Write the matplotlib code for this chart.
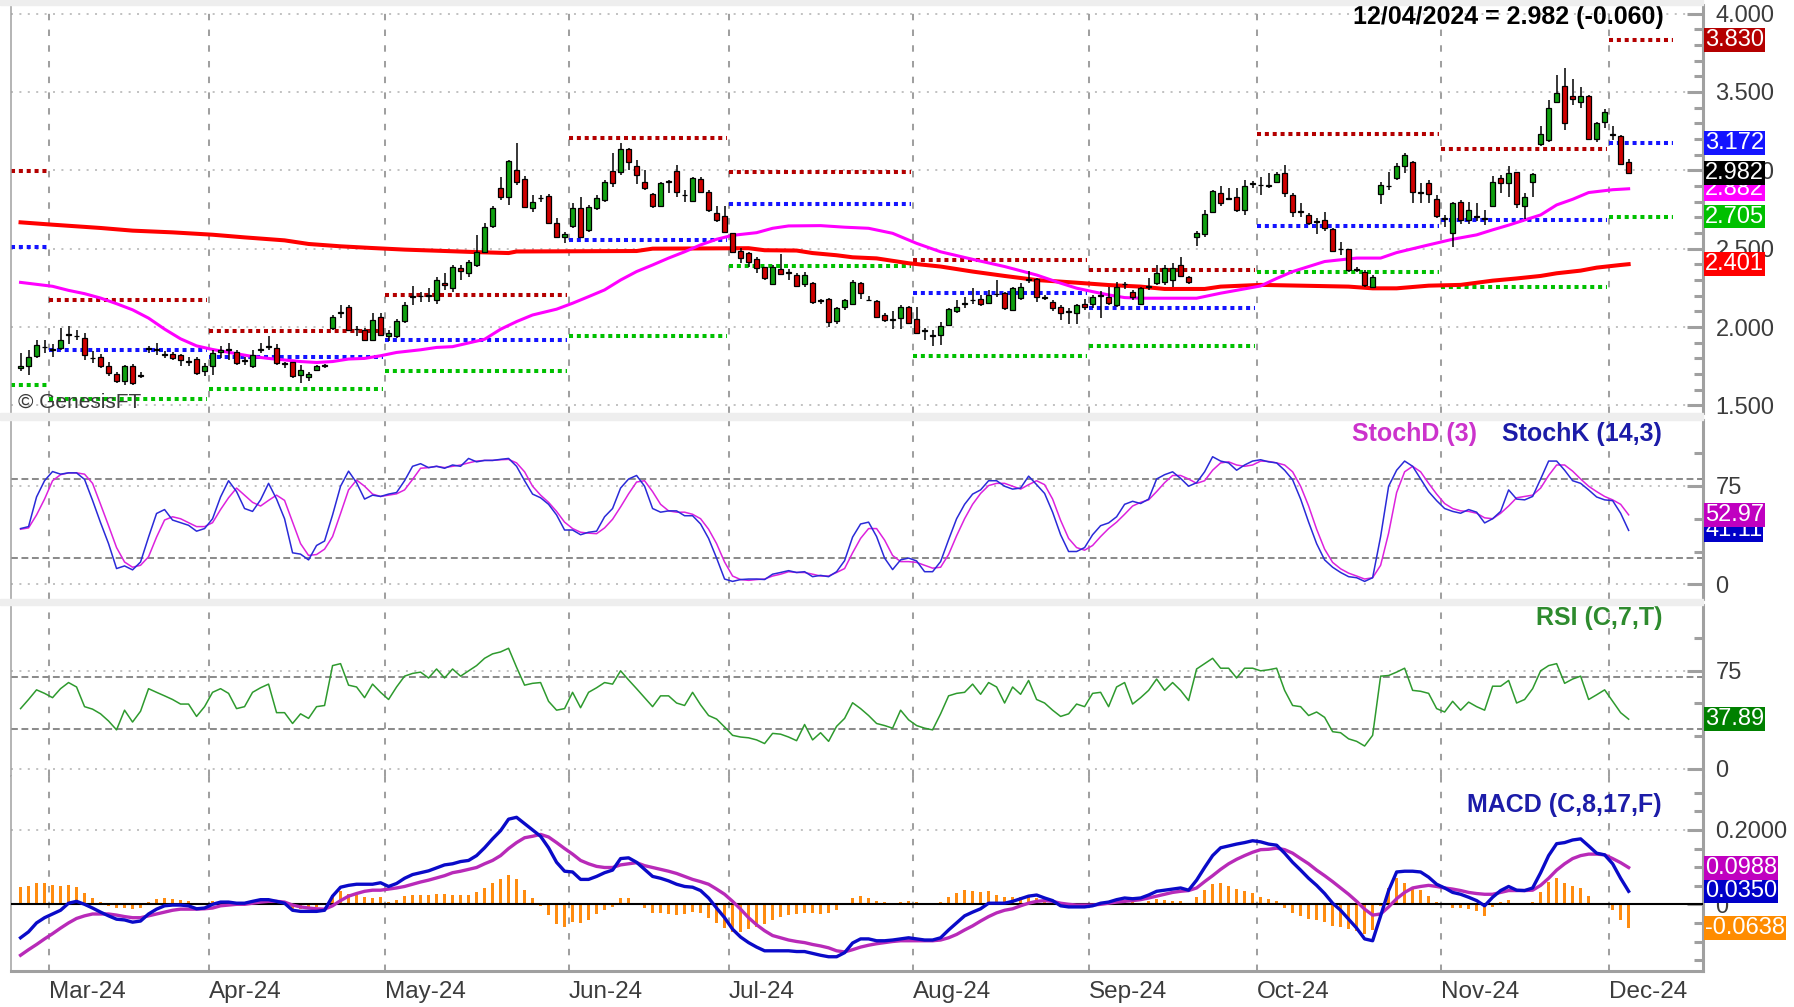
import numpy as np
import pandas as pd
import matplotlib
matplotlib.use("Agg")
import matplotlib.pyplot as plt
from matplotlib.patches import Rectangle

plt.rcParams['font.family'] = ['Liberation Sans', 'DejaVu Sans']

# trading days shown on the chart (weekdays, Good Friday missing)
dates = pd.bdate_range("2024-02-26", "2024-12-04")
dates = dates[dates != pd.Timestamp("2024-03-29")]

opens = [1.740, 1.749, 1.818, 1.870, 1.862, 1.866, 1.955, 1.945, 1.930, 1.805,
         1.809, 1.753, 1.700, 1.653, 1.753, 1.695, 1.860, 1.860, 1.830, 1.830,
         1.820, 1.785, 1.795, 1.717, 1.749, 1.840, 1.856, 1.840, 1.790, 1.750,
         1.855, 1.872, 1.866, 1.770, 1.775, 1.696, 1.680, 1.723, 1.752, 1.994,
         2.090, 2.128, 1.985, 1.983, 1.920, 2.062, 1.945, 1.940, 2.036, 2.190,
         2.200, 2.195, 2.170, 2.280, 2.247, 2.375, 2.343, 2.396, 2.480, 2.645,
         2.890, 2.832, 3.002, 2.943, 2.758, 2.820, 2.838, 2.662, 2.575, 2.645,
         2.758, 2.620, 2.758, 2.810, 2.996, 2.991, 3.134, 3.030, 2.928, 2.847,
         2.772, 2.930, 2.996, 2.845, 2.806, 2.945, 2.864, 2.730, 2.709, 2.598,
         2.488, 2.470, 2.432, 2.380, 2.275, 2.370, 2.350, 2.332, 2.275, 2.283,
         2.170, 2.177, 2.040, 2.126, 2.150, 2.279, 2.175, 2.167, 2.077, 2.050,
         2.056, 2.130, 2.050, 1.980, 1.945, 1.950, 2.014, 2.100, 2.147, 2.170,
         2.177, 2.156, 2.210, 2.215, 2.110, 2.184, 2.303, 2.305, 2.190, 2.163,
         2.126, 2.100, 2.092, 2.147, 2.147, 2.198, 2.190, 2.140, 2.273, 2.226,
         2.150, 2.255, 2.283, 2.290, 2.300, 2.396, 2.318, 2.573, 2.594, 2.736,
         2.857, 2.820, 2.832, 2.747, 2.915, 2.905, 2.900, 2.928, 2.981, 2.843,
         2.737, 2.715, 2.675, 2.683, 2.624, 2.500, 2.496, 2.370, 2.354, 2.258,
         2.850, 2.898, 2.949, 3.028, 3.055, 2.860, 2.920, 2.815, 2.696, 2.598,
         2.796, 2.683, 2.705, 2.693, 2.773, 2.949, 2.917, 2.991, 2.773, 2.928,
         3.168, 3.193, 3.438, 3.540, 3.474, 3.438, 3.474, 3.198, 3.310, 3.230,
         3.221, 3.055]
highs = [1.834, 1.855, 1.919, 1.919, 1.890, 1.994, 2.009, 1.983, 1.962, 1.845,
         1.830, 1.780, 1.715, 1.760, 1.766, 1.715, 1.877, 1.898, 1.845, 1.840,
         1.830, 1.810, 1.810, 1.770, 1.855, 1.877, 1.898, 1.855, 1.808, 1.855,
         1.898, 1.940, 1.890, 1.780, 1.780, 1.760, 1.715, 1.760, 1.766, 2.079,
         2.143, 2.143, 2.004, 1.994, 2.087, 2.087, 1.983, 2.050, 2.157, 2.264,
         2.226, 2.250, 2.320, 2.343, 2.396, 2.396, 2.428, 2.586, 2.662, 2.770,
         2.955, 3.066, 3.172, 2.964, 2.843, 2.843, 2.849, 2.694, 2.609, 2.790,
         2.832, 2.779, 2.843, 2.940, 3.110, 3.172, 3.140, 3.066, 3.000, 2.853,
         2.928, 2.940, 3.032, 2.875, 2.960, 2.955, 2.875, 2.773, 2.773, 2.600,
         2.503, 2.480, 2.450, 2.386, 2.396, 2.467, 2.370, 2.343, 2.353, 2.290,
         2.180, 2.183, 2.130, 2.177, 2.300, 2.290, 2.200, 2.173, 2.088, 2.100,
         2.140, 2.134, 2.126, 1.995, 1.980, 2.035, 2.120, 2.173, 2.190, 2.247,
         2.205, 2.237, 2.300, 2.226, 2.258, 2.279, 2.360, 2.310, 2.205, 2.173,
         2.140, 2.124, 2.150, 2.180, 2.205, 2.230, 2.258, 2.290, 2.290, 2.237,
         2.258, 2.310, 2.396, 2.396, 2.407, 2.450, 2.326, 2.610, 2.745, 2.877,
         2.900, 2.890, 2.890, 2.940, 2.930, 2.960, 2.980, 2.992, 3.034, 2.853,
         2.790, 2.726, 2.694, 2.737, 2.630, 2.540, 2.500, 2.385, 2.364, 2.333,
         2.928, 2.990, 3.045, 3.109, 3.062, 2.917, 2.940, 2.843, 2.715, 2.800,
         2.810, 2.800, 2.790, 2.745, 2.964, 2.970, 3.028, 2.992, 2.853, 2.985,
         3.283, 3.450, 3.606, 3.655, 3.580, 3.530, 3.480, 3.310, 3.390, 3.280,
         3.225, 3.070]
lows = [1.717, 1.696, 1.802, 1.834, 1.810, 1.855, 1.894, 1.919, 1.790, 1.770,
        1.738, 1.685, 1.642, 1.630, 1.630, 1.674, 1.834, 1.823, 1.800, 1.787,
        1.749, 1.749, 1.696, 1.685, 1.696, 1.800, 1.790, 1.760, 1.760, 1.740,
        1.834, 1.855, 1.760, 1.740, 1.674, 1.645, 1.655, 1.717, 1.740, 1.983,
        2.060, 1.972, 1.940, 1.915, 1.909, 1.940, 1.909, 1.930, 2.025, 2.140,
        2.162, 2.160, 2.150, 2.237, 2.226, 2.300, 2.320, 2.386, 2.470, 2.630,
        2.810, 2.777, 2.907, 2.758, 2.737, 2.800, 2.658, 2.566, 2.533, 2.630,
        2.566, 2.609, 2.747, 2.800, 2.896, 2.970, 3.000, 2.910, 2.874, 2.758,
        2.768, 2.858, 2.832, 2.800, 2.800, 2.853, 2.737, 2.673, 2.598, 2.470,
        2.407, 2.386, 2.343, 2.300, 2.268, 2.333, 2.300, 2.258, 2.258, 2.150,
        2.150, 2.000, 2.020, 2.110, 2.140, 2.177, 2.165, 2.056, 2.035, 1.990,
        1.986, 2.020, 1.960, 1.920, 1.880, 1.887, 2.010, 2.090, 2.120, 2.150,
        2.135, 2.147, 2.190, 2.110, 2.100, 2.173, 2.280, 2.160, 2.170, 2.105,
        2.045, 2.020, 2.020, 2.110, 2.120, 2.060, 2.140, 2.130, 2.240, 2.173,
        2.140, 2.237, 2.270, 2.270, 2.258, 2.320, 2.275, 2.520, 2.577, 2.726,
        2.773, 2.810, 2.737, 2.715, 2.890, 2.840, 2.885, 2.917, 2.830, 2.700,
        2.700, 2.650, 2.596, 2.610, 2.480, 2.460, 2.354, 2.350, 2.258, 2.247,
        2.783, 2.875, 2.940, 2.980, 2.790, 2.790, 2.790, 2.694, 2.640, 2.513,
        2.660, 2.660, 2.675, 2.650, 2.770, 2.853, 2.830, 2.758, 2.690, 2.830,
        3.155, 3.183, 3.428, 3.257, 3.417, 3.395, 3.193, 3.183, 3.270, 3.190,
        3.036, 2.975]
closes = [1.750, 1.809, 1.883, 1.875, 1.855, 1.919, 1.950, 1.940, 1.823, 1.800,
          1.749, 1.706, 1.653, 1.749, 1.642, 1.690, 1.865, 1.855, 1.820, 1.800,
          1.790, 1.780, 1.706, 1.753, 1.834, 1.855, 1.853, 1.770, 1.786, 1.820,
          1.860, 1.876, 1.770, 1.765, 1.685, 1.728, 1.700, 1.753, 1.756, 2.062,
          2.095, 1.983, 1.990, 1.920, 2.047, 1.951, 1.962, 2.040, 2.143, 2.195,
          2.195, 2.205, 2.300, 2.270, 2.386, 2.360, 2.413, 2.480, 2.640, 2.762,
          2.832, 3.060, 2.928, 2.764, 2.800, 2.825, 2.666, 2.577, 2.595, 2.762,
          2.577, 2.768, 2.820, 2.928, 2.917, 3.134, 3.055, 2.970, 2.885, 2.772,
          2.917, 2.925, 2.864, 2.840, 2.953, 2.864, 2.747, 2.683, 2.609, 2.480,
          2.440, 2.418, 2.375, 2.310, 2.380, 2.340, 2.345, 2.264, 2.332, 2.158,
          2.165, 2.035, 2.120, 2.170, 2.290, 2.220, 2.170, 2.067, 2.045, 2.048,
          2.130, 2.028, 1.965, 1.977, 1.943, 2.007, 2.113, 2.130, 2.150, 2.173,
          2.147, 2.205, 2.213, 2.120, 2.247, 2.258, 2.307, 2.194, 2.186, 2.120,
          2.088, 2.097, 2.140, 2.126, 2.194, 2.200, 2.152, 2.258, 2.276, 2.190,
          2.247, 2.258, 2.343, 2.375, 2.375, 2.326, 2.285, 2.603, 2.720, 2.870,
          2.794, 2.815, 2.747, 2.900, 2.920, 2.908, 2.900, 2.977, 2.853, 2.736,
          2.734, 2.662, 2.672, 2.630, 2.488, 2.496, 2.364, 2.366, 2.269, 2.318,
          2.906, 2.900, 3.028, 3.098, 2.864, 2.857, 2.849, 2.709, 2.690, 2.790,
          2.683, 2.747, 2.708, 2.690, 2.928, 2.917, 2.985, 2.785, 2.828, 2.977,
          3.232, 3.395, 3.495, 3.300, 3.453, 3.474, 3.198, 3.300, 3.374, 3.225,
          3.042, 2.982]

# moving averages, read at sample bars
ma200_bar = [0, 4, 10, 14, 19, 24, 28, 33, 36, 40, 44, 48, 52, 57, 61, 62, 77, 79, 91, 93,
             97, 99, 102, 104, 107, 111, 115, 119, 123, 127, 132, 136, 140, 143, 148,
             150, 155, 166, 169, 172, 176, 180, 184, 187, 190, 192, 195, 197, 200, 201]
ma200 = [2.668, 2.653, 2.632, 2.615, 2.604, 2.589, 2.572, 2.553, 2.530, 2.515,
         2.504, 2.494, 2.487, 2.478, 2.472, 2.482, 2.485, 2.500, 2.503, 2.490,
         2.488, 2.472, 2.458, 2.445, 2.438, 2.407, 2.386, 2.354, 2.326, 2.300,
         2.283, 2.268, 2.258, 2.243, 2.243, 2.258, 2.269, 2.258, 2.247, 2.247,
         2.264, 2.269, 2.296, 2.310, 2.326, 2.343, 2.360, 2.379, 2.396, 2.401]
ma50_bar = [0, 4, 6, 8, 10, 12, 14, 16, 18, 20, 22, 24, 27, 29, 31, 33, 35, 37, 39, 41,
            43, 45, 47, 50, 52, 54, 58, 60, 62, 64, 67, 69, 71, 73, 75, 77, 79, 81, 83, 85,
            87, 89, 92, 94, 96, 100, 103, 106, 109, 112, 115, 119, 123, 127, 130, 132,
            134, 136, 138, 140, 147, 150, 155, 157, 159, 163, 167, 170, 172, 176, 179,
            182, 184, 186, 188, 190, 192, 194, 196, 199, 201]
ma50 = [2.285, 2.260, 2.234, 2.213, 2.185, 2.149, 2.110, 2.057, 1.987, 1.925,
        1.880, 1.857, 1.830, 1.812, 1.800, 1.790, 1.780, 1.774, 1.780, 1.796,
        1.800, 1.817, 1.838, 1.855, 1.870, 1.875, 1.922, 1.986, 2.035, 2.077,
        2.114, 2.152, 2.194, 2.237, 2.300, 2.354, 2.396, 2.440, 2.480, 2.524,
        2.560, 2.585, 2.602, 2.630, 2.645, 2.647, 2.637, 2.630, 2.598, 2.534,
        2.480, 2.432, 2.386, 2.332, 2.280, 2.248, 2.226, 2.205, 2.188, 2.184,
        2.184, 2.216, 2.262, 2.310, 2.354, 2.418, 2.440, 2.440, 2.475, 2.524,
        2.560, 2.588, 2.620, 2.650, 2.683, 2.715, 2.779, 2.815, 2.858, 2.876,
        2.882]

# monthly pivot levels, Feb .. Dec
pivot_r1 = [2.994, 2.174, 1.977, 2.202, 3.208, 2.990, 2.428, 2.364, 3.234, 3.134, 3.830]
pivot_pp = [2.509, 1.855, 1.809, 1.920, 2.556, 2.785, 2.216, 2.120, 2.646, 2.683, 3.172]
pivot_s1 = [1.628, 1.540, 1.604, 1.717, 1.943, 2.392, 1.816, 1.880, 2.354, 2.258, 2.705]

stoch_k = [42.5, 44, 66.6, 79, 86, 84, 85, 85, 80, 64,
           47, 31, 12, 14, 11, 17, 36, 54, 57, 49,
           47, 45, 40.5, 42.5, 50, 66.6, 79, 70.7, 57.8, 55.6,
           64.4, 77, 65, 50, 24, 23, 18.6, 29.6, 33, 52.9,
           74.8, 86.3, 77.5, 65, 68, 67, 68.8, 70, 79, 90,
           92, 89, 90, 88.5, 91, 90, 96, 93.4, 94.5, 94.5,
           95.3, 96, 90, 79, 68.8, 66, 61, 52.9, 41.4, 41.4,
           37.8, 39.7, 40.5, 51.5, 57.8, 73.4, 80.3, 83, 74.8, 57.8,
           55, 56, 56, 52.3, 52.3, 46, 35, 20, 4, 2.2,
           3.6, 4, 4, 3.6, 7.7, 9, 10.4, 9, 9.6, 5.8,
           6.8, 5.8, 9.6, 18, 36, 46, 47.4, 36.4, 20, 11.2,
           18.6, 20, 17.8, 9.6, 9.6, 17.3, 34, 50, 61, 68.8,
           72, 79, 79, 74.8, 72.6, 73.4, 82.5, 76, 69.3, 55,
           37.8, 25, 25, 28, 37.8, 44.7, 46.8, 51.5, 61, 63.3,
           61.6, 65, 80.3, 83.6, 85.8, 80.8, 74.8, 77.5, 85.8, 97.3,
           94, 92.6, 87, 91, 94, 95, 93.4, 92.6, 87, 79.7,
           65, 47.4, 31, 18.6, 13, 9, 5.8, 5, 2.2, 5,
           36.4, 74.8, 87, 94, 90, 80.3, 70.7, 63.8, 57.8, 55.6,
           54.2, 57, 55, 46.8, 50, 55.6, 72, 65, 64.4, 67,
           80.3, 94, 94, 87, 79, 77, 72, 66.6, 64.4, 63.8,
           54.2, 41.11]
stoch_d = [42, 43, 52.9, 65, 79, 83.6, 85, 85, 84, 77,
           61, 44.7, 28, 17, 13, 14.5, 21, 36, 49, 51.5,
           50, 47, 44, 44, 47, 57, 66, 73.4, 68, 62.5,
           59.7, 64, 68, 64, 47.4, 31, 22, 22.7, 26.8, 36.4,
           54, 72, 79.5, 74.8, 68.8, 67, 68, 69, 72, 80,
           88.5, 89, 90, 89, 90, 91, 92.6, 94, 94.5, 94.5,
           95, 95.3, 92.6, 85.8, 74.8, 68, 62.5, 55.6, 47.4, 42.5,
           39.7, 39, 38.6, 43, 49.6, 59, 69, 78, 79, 70.7,
           61, 56, 55, 55, 53.4, 50, 42, 31, 17, 6.3,
           3.6, 3, 3.6, 4, 6.3, 7.7, 9.6, 9, 9, 7.7,
           6.3, 6.3, 9, 12, 24, 35, 42.5, 42.5, 33.7, 22,
           17.3, 17.3, 16.7, 14.5, 12.3, 13, 22.7, 37, 50, 61,
           69.3, 75.3, 77, 77, 74.8, 72.6, 76, 79, 76, 65,
           48.8, 35, 28, 26, 29.6, 36.4, 42.5, 47.4, 53.4, 59.7,
           62.5, 64.4, 70.7, 77.5, 83, 83, 80.3, 77, 79, 87,
           92.6, 93.4, 91, 90, 91, 94, 93.7, 92.6, 91, 85.8,
           74.8, 59.7, 42, 26.8, 16.7, 11.8, 8.5, 6.3, 4, 5,
           14.5, 39, 70, 85.8, 90, 85.8, 77, 68.8, 61.6, 57.8,
           56, 55.6, 54.2, 50.7, 50, 54.2, 59.7, 66, 67, 68,
           73.4, 83, 91, 91, 86.3, 80.3, 74.8, 70.7, 67, 64.4,
           61, 52.97]
rsi = [46, 53, 60.4, 57.7, 54.4, 61.3, 66, 62.6, 47.5, 45.6,
       42, 36.5, 29.7, 44.8, 35.7, 44, 61.3, 58.5, 55.8, 53,
       49.5, 49.5, 40, 47.5, 58.5, 61.3, 57.7, 46, 47.5, 58.5,
       62, 64.8, 42.9, 42.9, 34.6, 42, 38.5, 47.5, 48.4, 79,
       80.5, 64, 62.6, 54.4, 64.8, 58.5, 53, 62.6, 70.9, 73,
       74, 69.5, 76.4, 69.5, 76.4, 70.9, 75, 79, 84.6, 88,
       89.5, 92.3, 77.7, 64, 65.4, 66, 51.6, 44.8, 46, 58.5,
       46.7, 58.5, 62, 66, 64.8, 75, 68, 61.3, 54.4, 47.5,
       55.8, 55.8, 50.3, 48.4, 58.5, 48.9, 40.7, 38, 31.9, 25.5,
       24.2, 23.6, 22, 19.2, 27, 26.4, 24.2, 21.4, 33.8, 22,
       27.5, 20.9, 32.4, 38.5, 50.5, 46, 40.7, 34.6, 33, 31,
       44.8, 37.4, 33, 31, 29.7, 42, 55.8, 57.7, 58.5, 64.8,
       57, 66, 62.6, 50.3, 62.6, 57, 67.6, 53, 50.3, 44.8,
       40, 42, 49.5, 47.5, 57.7, 58.5, 47.5, 62.6, 66, 49.5,
       54.4, 60, 68.7, 60, 66, 60, 52.2, 76.4, 80.5, 84.6,
       77, 77, 69.5, 77, 77, 75, 75.8, 77, 60, 48.4,
       47.5, 40.7, 43.4, 39.3, 28.3, 27.5, 22.8, 20.9, 17.3, 25.5,
       70.9, 71.4, 74, 77, 60, 59.3, 57.7, 46, 43.4, 51.6,
       44.8, 51, 47.5, 44.8, 63.2, 63.2, 67.6, 50.3, 53, 61.3,
       75, 79, 80.5, 65.4, 68.7, 70.9, 53, 56.6, 60.4, 51.6,
       42.9, 37.89]
macd = [-0.090, -0.074, -0.050, -0.036, -0.026, -0.016, 0.003, 0.008, 0.000, -0.010,
        -0.021, -0.031, -0.040, -0.042, -0.048, -0.045, -0.026, -0.013, -0.004, -0.002,
        -0.002, -0.004, -0.012, -0.010, 0.000, 0.006, 0.006, 0.003, 0.003, 0.008,
        0.0125, 0.0125, 0.008, 0.003, -0.016, -0.019, -0.019, -0.019, -0.016, 0.022,
        0.046, 0.051, 0.054, 0.054, 0.054, 0.058, 0.048, 0.056, 0.070, 0.080,
        0.085, 0.090, 0.098, 0.106, 0.109, 0.115, 0.118, 0.131, 0.152, 0.176,
        0.198, 0.229, 0.234, 0.217, 0.200, 0.183, 0.152, 0.113, 0.089, 0.087,
        0.067, 0.067, 0.075, 0.085, 0.092, 0.123, 0.125, 0.113, 0.094, 0.075,
        0.070, 0.063, 0.054, 0.048, 0.046, 0.037, 0.017, -0.010, -0.036, -0.067,
        -0.088, -0.103, -0.115, -0.125, -0.125, -0.125, -0.125, -0.127, -0.127, -0.132,
        -0.137, -0.141, -0.141, -0.130, -0.104, -0.093, -0.093, -0.098, -0.098, -0.096,
        -0.093, -0.090, -0.093, -0.096, -0.096, -0.090, -0.069, -0.050, -0.031, -0.021,
        -0.012, 0.003, 0.003, 0.003, 0.008, 0.015, 0.022, 0.025, 0.017, 0.010,
        -0.004, -0.007, -0.007, -0.007, -0.004, 0.003, 0.006, 0.0125, 0.017, 0.015,
        0.017, 0.025, 0.035, 0.038, 0.041, 0.044, 0.038, 0.065, 0.099, 0.131,
        0.152, 0.157, 0.162, 0.166, 0.171, 0.168, 0.162, 0.159, 0.1375, 0.113,
        0.092, 0.070, 0.051, 0.029, 0.003, -0.016, -0.040, -0.064, -0.093, -0.098,
        -0.031, 0.037, 0.087, 0.089, 0.089, 0.087, 0.073, 0.054, 0.044, 0.032,
        0.027, 0.019, 0.010, -0.004, 0.019, 0.037, 0.048, 0.038, 0.037, 0.044,
        0.085, 0.131, 0.163, 0.166, 0.173, 0.176, 0.157, 0.1375, 0.133, 0.109,
        0.070, 0.0350]
macd_signal = [-0.137, -0.122, -0.108, -0.093, -0.079, -0.064, -0.050, -0.038, -0.031, -0.026,
               -0.026, -0.026, -0.029, -0.033, -0.036, -0.036, -0.031, -0.026, -0.021, -0.016,
               -0.013, -0.013, -0.013, -0.012, -0.010, -0.004, -0.002, 0.000, 0.000, 0.003,
               0.006, 0.008, 0.008, 0.006, -0.002, -0.007, -0.010, -0.012, -0.013, -0.004,
               0.010, 0.022, 0.029, 0.035, 0.038, 0.038, 0.041, 0.044, 0.048, 0.054,
               0.060, 0.065, 0.071, 0.077, 0.085, 0.089, 0.094, 0.099, 0.109, 0.118,
               0.131, 0.150, 0.166, 0.179, 0.183, 0.188, 0.181, 0.166, 0.150, 0.135,
               0.118, 0.109, 0.102, 0.099, 0.099, 0.106, 0.109, 0.112, 0.104, 0.099,
               0.094, 0.089, 0.083, 0.075, 0.067, 0.061, 0.054, 0.041, 0.027, 0.008,
               -0.013, -0.036, -0.055, -0.071, -0.084, -0.090, -0.096, -0.100, -0.103, -0.108,
               -0.112, -0.117, -0.125, -0.128, -0.122, -0.115, -0.110, -0.106, -0.103, -0.100,
               -0.098, -0.098, -0.098, -0.098, -0.098, -0.096, -0.090, -0.081, -0.069, -0.058,
               -0.045, -0.033, -0.023, -0.016, -0.012, -0.004, 0.003, 0.008, 0.010, 0.008,
               0.003, 0.000, -0.002, -0.002, -0.002, 0.000, 0.003, 0.006, 0.008, 0.010,
               0.0125, 0.017, 0.022, 0.027, 0.032, 0.035, 0.037, 0.044, 0.061, 0.077,
               0.094, 0.109, 0.121, 0.131, 0.140, 0.147, 0.148, 0.151, 0.147, 0.1375,
               0.123, 0.109, 0.092, 0.077, 0.061, 0.044, 0.027, 0.008, -0.013, -0.029,
               -0.026, -0.007, 0.015, 0.032, 0.044, 0.048, 0.051, 0.048, 0.044, 0.041,
               0.037, 0.032, 0.029, 0.027, 0.027, 0.032, 0.037, 0.037, 0.037, 0.038,
               0.051, 0.070, 0.092, 0.109, 0.123, 0.131, 0.135, 0.135, 0.133, 0.123,
               0.112, 0.0988]

# ---------------------------------------------------------------- figure
axis_grey = '#a0a0a0'
grid_grey = '#b0b0b0'
text_grey = '#3c3c3c'
up_green = '#10a010'
down_red = '#d00000'

fig = plt.figure(figsize=(17.94, 10.07), dpi=100, facecolor='white')
L, W = 0.0061, 0.9432
ax_p = fig.add_axes([L, 0.5899, W, 0.4051])
ax_s = fig.add_axes([L, 0.4052, W, 0.1773])
ax_r = fig.add_axes([L, 0.2290, W, 0.1706])
ax_m = fig.add_axes([L, 0.0355, W, 0.1935])
for y0, hgt in [(0.5825, 0.0074), (0.3996, 0.0056), (0.995, 0.005)]:
    fig.patches.append(Rectangle((0, y0), L + W, hgt, transform=fig.transFigure,
                                 color='#eeeeee', zorder=0))

x = np.arange(len(dates))
months = dates.to_period('M')
month_first = [i for i in range(len(dates)) if i == 0 or months[i] != months[i - 1]]
month_x = [i - 0.5 for i in month_first[1:]]
month_lbl = [dates[i].strftime('%b-%y') for i in month_first[1:]]
xmin, xmax = -1.2, 210.3


def setup(ax, ylim, major, labels, minor, dotted):
    ax.set_xlim(xmin, xmax)
    ax.set_ylim(*ylim)
    ax.yaxis.tick_right()
    ax.set_yticks(major)
    ax.set_yticklabels(labels)
    ax.set_yticks(minor, minor=True)
    ax.tick_params(axis='y', which='both', direction='in', color=axis_grey, width=2.2)
    ax.tick_params(axis='y', which='major', length=11.5, labelsize=17,
                   labelcolor=text_grey, pad=9)
    ax.tick_params(axis='y', which='minor', length=6.5)
    ax.tick_params(axis='x', which='both', bottom=False, labelbottom=False)
    for s in ['top', 'bottom']:
        ax.spines[s].set_visible(False)
    ax.spines['right'].set_color(axis_grey)
    ax.spines['right'].set_linewidth(2.2)
    ax.spines['left'].set_color(axis_grey)
    ax.spines['left'].set_linewidth(1.1)
    for v in dotted:
        ax.axhline(v, color=grid_grey, lw=1.1, ls=(0, (1.3, 4.2)), zorder=1)
    for xm in month_x:
        ax.axvline(xm, color=axis_grey, lw=1.45, ls=(0, (3.2, 4.6)), zorder=1)


def tag(ax, val, text, color):
    ax.annotate(text, xy=(1, val), xycoords=('axes fraction', 'data'),
                xytext=(1.5, 0), textcoords='offset points', ha='left', va='center',
                fontsize=17, color='white', annotation_clip=False, zorder=10,
                bbox=dict(boxstyle='square,pad=0.04', fc=color, ec='none'))


# ---- price panel
price_major = [1.5, 2.0, 2.5, 3.0, 3.5, 4.0]
setup(ax_p, (1.452, 4.054), price_major, ['%.3f' % v for v in price_major],
      [v / 10 for v in range(15, 41)], price_major)

bounds = month_first + [len(dates)]
for k in range(len(month_first)):
    x0 = xmin if k == 0 else month_first[k] - 0.5
    x1 = len(dates) + 4.5 if k == len(month_first) - 1 else bounds[k + 1] - 0.75
    for lv, col in [(pivot_r1, '#b40000'), (pivot_pp, '#1414ff'), (pivot_s1, '#00c000')]:
        ax_p.plot([x0, x1], [lv[k], lv[k]], color=col, lw=2.9, ls=(0, (1, 0.95)),
                  dash_capstyle='butt', zorder=2)

ax_p.plot(ma200_bar, ma200, color='#ff0000', lw=2.9, zorder=3)
ax_p.plot(ma50_bar, ma50, color='#ff00ff', lw=2.2, zorder=3)

o, h, l, c = map(np.array, (opens, highs, lows, closes))
body_lo = np.minimum(o, c)
body_h = np.maximum(np.abs(c - o), 0.004)
ax_p.vlines(x, l, h, color='black', lw=1.1, zorder=4)
ax_p.bar(x, body_h, bottom=body_lo, width=0.62,
         color=np.where(c >= o, up_green, down_red), edgecolor='black', linewidth=0.9,
         zorder=5)

chg = closes[-1] - closes[-2]
ax_p.text(0.977, 0.9706, '%s = %.3f (%s)' % (dates[-1].strftime('%m/%d/%Y'), closes[-1],
                                            '%.3f' % chg if chg < 0 else '+%.3f' % chg),
          transform=ax_p.transAxes, ha='right', va='center', fontsize=18,
          fontweight='bold', color='black')
ax_p.text(0.004, 0.027, '\u00a9 GenesisFT', transform=ax_p.transAxes, ha='left',
          va='center', fontsize=15, color='#3a3a3a')

tag(ax_p, pivot_r1[-1], '%.3f' % pivot_r1[-1], '#b40000')
tag(ax_p, pivot_pp[-1], '%.3f' % pivot_pp[-1], '#1414ff')
tag(ax_p, ma50[-1], '%.3f' % ma50[-1], '#ff00ff')
tag(ax_p, closes[-1], '%.3f' % closes[-1], 'black')
tag(ax_p, pivot_s1[-1], '%.3f' % pivot_s1[-1], '#00c000')
tag(ax_p, ma200[-1], '%.3f' % ma200[-1], '#ff0000')

# ---- stochastics
setup(ax_s, (-11.2, 125), [0, 75], ['0', '75'], [25, 50, 100], [0, 75])
for v in (20, 80):
    ax_s.axhline(v, color='#8c8c8c', lw=1.45, ls=(0, (3.4, 1.8)), zorder=1)
ax_s.plot(x, stoch_d, color='#dd22dd', lw=1.1, zorder=3)
ax_s.plot(x, stoch_k, color='#2a2ad8', lw=1.1, zorder=3)
ax_s.text(0.8664, 0.924, 'StochD (3)', transform=ax_s.transAxes, ha='right',
          va='center', fontsize=18, fontweight='bold', color='#cc33cc')
ax_s.text(0.9758, 0.924, 'StochK (14,3)', transform=ax_s.transAxes, ha='right',
          va='center', fontsize=18, fontweight='bold', color='#1c1ca8')
tag(ax_s, stoch_k[-1], '%.2f' % stoch_k[-1], '#0000c8')
tag(ax_s, stoch_d[-1], '%.2f' % stoch_d[-1], '#c000c0')

# ---- RSI
setup(ax_r, (-6, 125.8), [0, 75], ['0', '75'], [25, 50, 100], [0, 75])
for v in (30, 70):
    ax_r.axhline(v, color='#8c8c8c', lw=1.45, ls=(0, (3.4, 1.8)), zorder=1)
ax_r.plot(x, rsi, color='#2e9a2e', lw=1.1, zorder=3)
ax_r.text(0.9758, 0.922, 'RSI (C,7,T)', transform=ax_r.transAxes, ha='right',
          va='center', fontsize=18, fontweight='bold', color='#2e8b2e')
tag(ax_r, rsi[-1], '%.2f' % rsi[-1], '#008000')

# ---- MACD
setup(ax_m, (-0.18, 0.344), [0, 0.2], ['0', '0.2000'],
      [-0.15, -0.1, -0.05, 0.05, 0.1, 0.15, 0.25, 0.3], [0.2])
ax_m.spines['bottom'].set_visible(True)
ax_m.spines['bottom'].set_color(axis_grey)
ax_m.spines['bottom'].set_linewidth(2.2)
hist = [m - s for m, s in zip(macd, macd_signal)]
ax_m.bar(x, hist, width=0.42, color='#ff8c10', zorder=2)
ax_m.axhline(0, color='black', lw=1.5, zorder=3)
ax_m.plot(x, macd_signal, color='#b82ab8', lw=2.4, zorder=4)
ax_m.plot(x, macd, color='#0a0ac8', lw=2.4, zorder=4)
ax_m.text(0.9758, 0.853, 'MACD (C,8,17,F)', transform=ax_m.transAxes, ha='right',
          va='center', fontsize=18, fontweight='bold', color='#1c1ca8')
tag(ax_m, hist[-1], '%.4f' % hist[-1], '#ff8c00')
tag(ax_m, macd[-1], '%.4f' % macd[-1], '#0000c8')
tag(ax_m, macd_signal[-1], '%.4f' % macd_signal[-1], '#c000c0')

ax_m.set_xticks(month_x)
ax_m.set_xticklabels(month_lbl)
ax_m.tick_params(axis='x', which='major', bottom=True, labelbottom=True, length=0,
                 pad=7, labelsize=17.5, labelcolor=text_grey)
for t in ax_m.get_xticklabels():
    t.set_ha('left')

fig.savefig('out.png', dpi=100, facecolor='white')
